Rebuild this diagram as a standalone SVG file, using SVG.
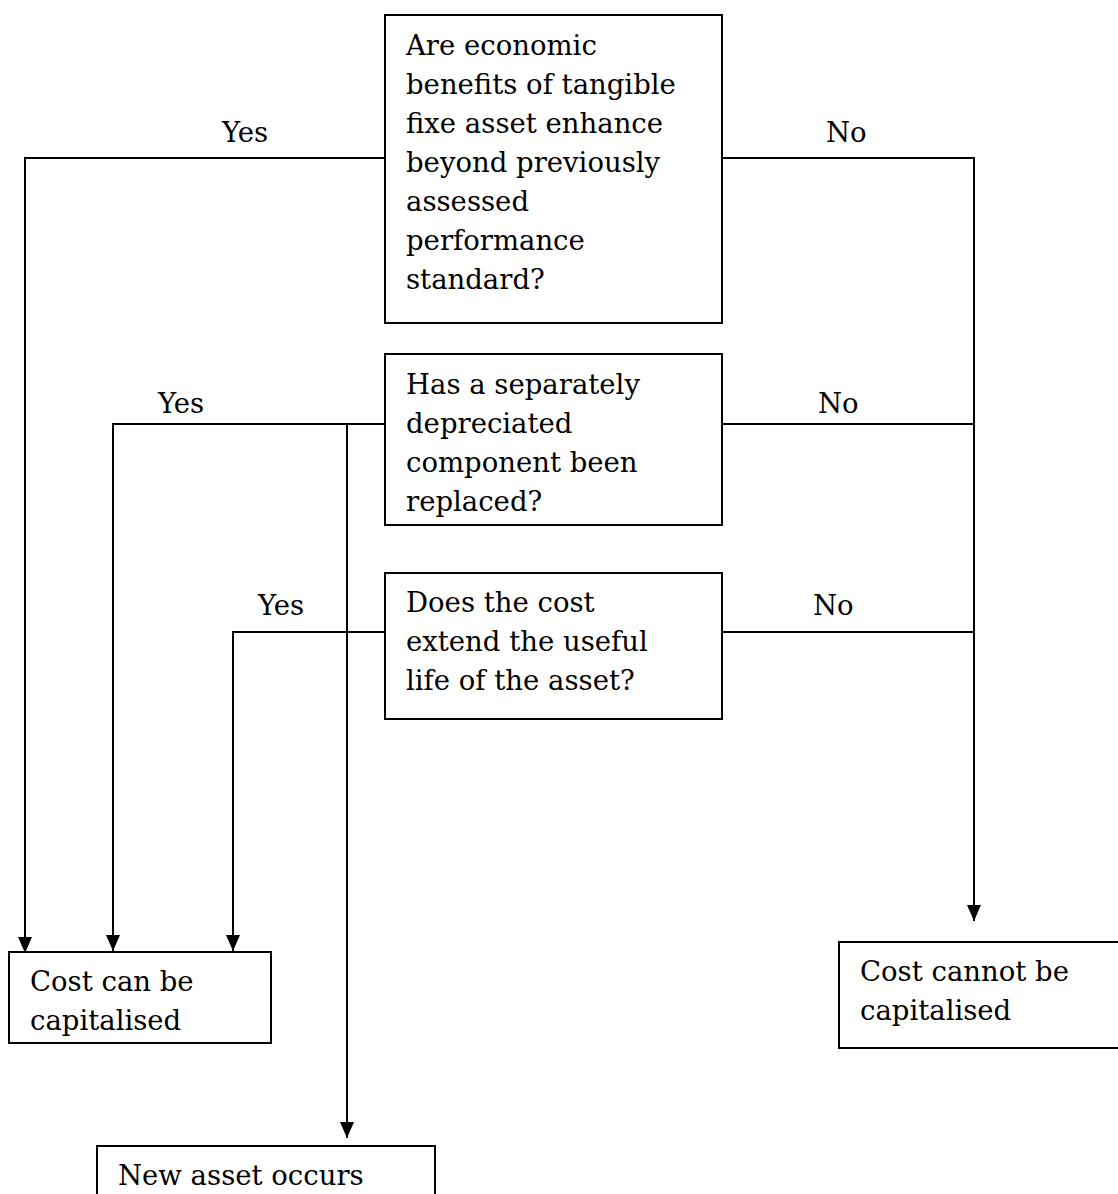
<svg xmlns="http://www.w3.org/2000/svg" width="1118" height="1194" viewBox="0 0 1118 1194">
<style>
.box{fill:#fff;stroke:#000;stroke-width:2}
.t{font-family:"DejaVu Serif","Liberation Serif",serif;font-size:27.5px;fill:#000}
.c{fill:none;stroke:#000;stroke-width:2}
</style>
<defs>
<marker id="ah" markerWidth="16" markerHeight="14" refX="16" refY="7" orient="auto" markerUnits="userSpaceOnUse" viewBox="0 0 16 14">
<path d="M0,0 L16,7 L0,14 Z" fill="#000"/>
</marker>
</defs>
<g id="connectors">
<polyline class="c" points="385,158 25,158 25,953" marker-end="url(#ah)"/>
<polyline class="c" points="722,158 974,158 974,921" marker-end="url(#ah)"/>
<polyline class="c" points="385,424 113,424 113,951" marker-end="url(#ah)"/>
<polyline class="c" points="347,424 347,1138" marker-end="url(#ah)"/>
<line class="c" x1="722" y1="424" x2="974" y2="424"/>
<polyline class="c" points="385,632 233,632 233,951" marker-end="url(#ah)"/>
<line class="c" x1="722" y1="632" x2="974" y2="632"/>
<text class="t" x="222" y="142">Yes</text>
<text class="t" x="826" y="142">No</text>
<text class="t" x="158" y="413">Yes</text>
<text class="t" x="818" y="413">No</text>
<text class="t" x="258" y="615">Yes</text>
<text class="t" x="813" y="615">No</text>
</g>
<g id="q1">
<rect class="box" x="385" y="15" width="337" height="308"/>
<text class="t" x="406" y="55">Are economic</text>
<text class="t" x="406" y="94">benefits of tangible</text>
<text class="t" x="406" y="133">fixe asset enhance</text>
<text class="t" x="406" y="172">beyond previously</text>
<text class="t" x="406" y="211">assessed</text>
<text class="t" x="406" y="250">performance</text>
<text class="t" x="406" y="289">standard?</text>
</g>
<g id="q2">
<rect class="box" x="385" y="354" width="337" height="171"/>
<text class="t" x="406" y="394">Has a separately</text>
<text class="t" x="406" y="433">depreciated</text>
<text class="t" x="406" y="472">component been</text>
<text class="t" x="406" y="511">replaced?</text>
</g>
<g id="q3">
<rect class="box" x="385" y="573" width="337" height="146"/>
<text class="t" x="406" y="612">Does the cost</text>
<text class="t" x="406" y="651">extend the useful</text>
<text class="t" x="406" y="690">life of the asset?</text>
</g>
<g id="capitalised">
<rect class="box" x="9" y="952" width="262" height="91"/>
<text class="t" x="30" y="991">Cost can be</text>
<text class="t" x="30" y="1030">capitalised</text>
</g>
<g id="not-capitalised">
<rect class="box" x="839" y="942" width="290" height="106"/>
<text class="t" x="860" y="981">Cost cannot be</text>
<text class="t" x="860" y="1020">capitalised</text>
</g>
<g id="new-asset">
<rect class="box" x="97" y="1146" width="338" height="80"/>
<text class="t" x="118" y="1185">New asset occurs</text>
</g>
</svg>
